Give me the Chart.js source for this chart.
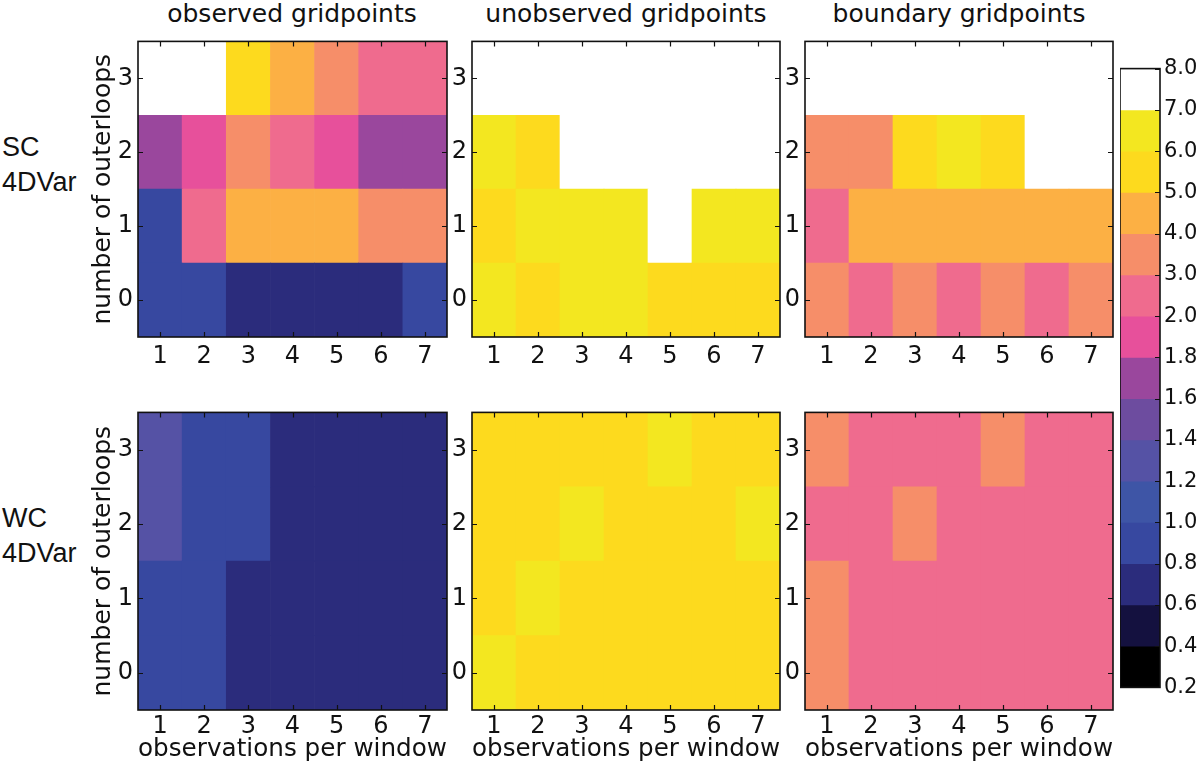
<!DOCTYPE html>
<html><head><meta charset="utf-8">
<script src="https://cdn.jsdelivr.net/npm/chart.js@4.4.1/dist/chart.umd.min.js"></script>
<style>
html,body{margin:0;padding:0;background:#fff;}
body{width:1200px;height:766px;overflow:hidden;position:relative;font-family:'DejaVu Sans',sans-serif;}
.box{position:absolute;}
.ttl{position:absolute;font-family:'DejaVu Sans',sans-serif;font-size:25px;line-height:25px;color:#111;text-align:center;white-space:nowrap;width:400px;}
.lab{position:absolute;left:2px;font-family:'Liberation Sans',Arial,sans-serif;font-size:27px;line-height:35px;color:#111;}
</style></head><body>
<div class="ttl" style="left:92px;top:1px">observed gridpoints</div>
<div class="ttl" style="left:426px;top:1px">unobserved gridpoints</div>
<div class="ttl" style="left:759px;top:1px">boundary gridpoints</div>
<div class="lab" style="top:130px">SC<br>4DVar</div>
<div class="lab" style="top:501px">WC<br>4DVar</div>
<script>
// ---- data ----
const obsPerWindow = ['1','2','3','4','5','6','7'];
const outerloopTicks = [0, 1, 2, 3];
const cbBounds = [0.2,0.4,0.6,0.8,1.0,1.2,1.4,1.6,1.8,2.0,3.0,4.0,5.0,6.0,7.0,8.0];
const cbLabels = cbBounds.map(b => b.toFixed(1));
const cbColors = ['#000000','#14113f','#2b2c7c','#3748a0','#3e55a6','#5552a5','#6d4c9f','#9a479d',
                  '#e7509b','#ef6b8e','#f68e69','#fcb044','#fdda1e','#f3e720','#ffffff'];
// rows: number of outerloops 0..3 ; columns: observations per window 1..7
const scObserved = [
  [0.9,0.9,0.7,0.7,0.7,0.7,0.9],
  [0.9,2.5,4.5,4.5,4.5,3.5,3.5],
  [1.7,1.9,3.5,2.5,1.9,1.7,1.7],
  [7.5,7.5,5.5,4.5,3.5,2.5,2.5]
];
const scUnobserved = [
  [6.5,5.5,6.5,6.5,5.5,5.5,5.5],
  [5.5,6.5,6.5,6.5,7.5,6.5,6.5],
  [6.5,5.5,7.5,7.5,7.5,7.5,7.5],
  [7.5,7.5,7.5,7.5,7.5,7.5,7.5]
];
const scBoundary = [
  [3.5,2.5,3.5,2.5,3.5,2.5,3.5],
  [2.5,4.5,4.5,4.5,4.5,4.5,4.5],
  [3.5,3.5,5.5,6.5,5.5,7.5,7.5],
  [7.5,7.5,7.5,7.5,7.5,7.5,7.5]
];
const wcObserved = [
  [0.9,0.9,0.7,0.7,0.7,0.7,0.7],
  [0.9,0.9,0.7,0.7,0.7,0.7,0.7],
  [1.3,0.9,0.9,0.7,0.7,0.7,0.7],
  [1.3,0.9,0.9,0.7,0.7,0.7,0.7]
];
const wcUnobserved = [
  [6.5,5.5,5.5,5.5,5.5,5.5,5.5],
  [5.5,6.5,5.5,5.5,5.5,5.5,5.5],
  [5.5,5.5,6.5,5.5,5.5,5.5,6.5],
  [5.5,5.5,5.5,5.5,6.5,5.5,5.5]
];
const wcBoundary = [
  [3.5,2.5,2.5,2.5,2.5,2.5,2.5],
  [3.5,2.5,2.5,2.5,2.5,2.5,2.5],
  [2.5,2.5,3.5,2.5,2.5,2.5,2.5],
  [3.5,2.5,2.5,2.5,3.5,2.5,2.5]
];
const yTitle = 'number of outerloops';
const xTitle = 'observations per window';

// ---- rendering ----
Chart.defaults.font.family = "'DejaVu Sans', sans-serif";
Chart.defaults.color = '#111';

function colorFor(v) {
  for (let i = 0; i < cbColors.length; i++) if (v < cbBounds[i + 1]) return cbColors[i];
  return cbColors[cbColors.length - 1];
}

const framePlugin = {
  id: 'frame',
  afterDatasetsDraw(chart, args, o) {
    const {ctx, chartArea: a, scales: {x, y}} = chart;
    const L = 5;
    ctx.save();
    ctx.strokeStyle = '#111';
    ctx.lineWidth = 1.2;
    ctx.beginPath();
    if (o.xTicks) x.ticks.forEach((t, i) => {
      const p = Math.round(x.getPixelForTick(i)) + 0.5;
      ctx.moveTo(p, a.bottom); ctx.lineTo(p, a.bottom - L);
      ctx.moveTo(p, a.top); ctx.lineTo(p, a.top + L);
    });
    y.ticks.forEach(t => {
      const p = Math.round(y.getPixelForValue(t.value)) + 0.5;
      if (o.leftTicks) { ctx.moveTo(a.left, p); ctx.lineTo(a.left + L, p); }
      ctx.moveTo(a.right, p); ctx.lineTo(a.right - L, p);
    });
    ctx.stroke();
    ctx.lineWidth = 1.6;
    ctx.strokeRect(a.left, a.top, a.width, a.height);
    ctx.restore();
  }
};

function makeBox(left, top, w, h) {
  const d = document.createElement('div');
  d.className = 'box';
  d.style.left = left + 'px'; d.style.top = top + 'px';
  d.style.width = w + 'px'; d.style.height = h + 'px';
  const c = document.createElement('canvas');
  d.appendChild(c);
  document.body.appendChild(d);
  return c;
}

function makePanel(values, plotLeft, plotTop, plotW, plotH, o) {
  const T = 6, R = 6;
  const canvas = makeBox(plotLeft - o.L, plotTop - T, o.L + plotW + R, T + plotH + o.B);
  const datasets = values.map((row, r) => ({
    data: row.map(() => [r - 0.5, r + 0.5]),
    backgroundColor: row.map(colorFor),
    borderWidth: 0, grouped: false, barPercentage: 1, categoryPercentage: 1
  }));
  new Chart(canvas, {
    type: 'bar',
    data: {labels: obsPerWindow, datasets},
    options: {
      responsive: true, maintainAspectRatio: false, animation: false, events: [],
      layout: {padding: {top: T, right: R, left: 0, bottom: 0}},
      plugins: {legend: {display: false}, tooltip: {enabled: false}, frame: {xTicks: true, leftTicks: true}},
      scales: {
        x: {
          type: 'category', offset: true,
          grid: {display: false, drawTicks: false}, border: {display: false},
          ticks: {font: {size: 24}, color: '#111', padding: o.xPad, maxRotation: 0, autoSkip: false},
          title: {display: !!o.xTitle, text: o.xTitle || '', font: {size: 25}, color: '#111', padding: {top: 0, bottom: 2}},
          afterFit(s) { s.height = o.B; }
        },
        y: {
          type: 'linear', min: -0.5, max: 3.5,
          grid: {display: false, drawTicks: false}, border: {display: false},
          afterBuildTicks(s) { s.ticks = outerloopTicks.map(v => ({value: v})); },
          ticks: {font: {size: 24}, color: '#111', padding: 5},
          title: {display: !!o.yTitle, text: o.yTitle || '', font: {size: 25}, color: '#111', padding: {top: 3, bottom: 0}},
          afterFit(s) { s.width = o.L; }
        }
      }
    },
    plugins: [framePlugin]
  });
}

const colLeft = [138, 472, 805];
const colW = [309, 308, 308];
const rowTop = [28, 399];
const rowH = [309, 311];

makePanel(scObserved,   colLeft[0], rowTop[0], colW[0], rowH[0], {L: 53, B: 40, xPad: 5, yTitle});
makePanel(scUnobserved, colLeft[1], rowTop[0], colW[1], rowH[0], {L: 30, B: 40, xPad: 5});
makePanel(scBoundary,   colLeft[2], rowTop[0], colW[2], rowH[0], {L: 30, B: 40, xPad: 5});
makePanel(wcObserved,   colLeft[0], rowTop[1], colW[0], rowH[1], {L: 53, B: 56, xPad: 2, yTitle, xTitle});
makePanel(wcUnobserved, colLeft[1], rowTop[1], colW[1], rowH[1], {L: 30, B: 56, xPad: 2, xTitle});
makePanel(wcBoundary,   colLeft[2], rowTop[1], colW[2], rowH[1], {L: 30, B: 56, xPad: 2, xTitle});

// colorbar
(function () {
  const left = 1120, top = 68, w = 40, h = 620, P = 16, LW = 45;
  const canvas = makeBox(left, top - P, w + LW, h + 2 * P);
  new Chart(canvas, {
    type: 'bar',
    data: {
      labels: ['cb'],
      datasets: [{
        data: cbColors.map((c, i) => ({x: 'cb', y: [i, i + 1]})),
        backgroundColor: cbColors,
        borderWidth: 0, barPercentage: 1, categoryPercentage: 1
      }]
    },
    options: {
      responsive: true, maintainAspectRatio: false, animation: false, events: [],
      layout: {padding: {top: P, bottom: P, left: 0, right: 0}},
      plugins: {legend: {display: false}, tooltip: {enabled: false}, frame: {xTicks: false, leftTicks: false}},
      scales: {
        x: {type: 'category', display: false, offset: true},
        y: {
          position: 'right', min: 0, max: cbLabels.length - 1,
          grid: {display: false, drawTicks: false}, border: {display: false},
          afterBuildTicks(s) { s.ticks = cbLabels.map((_, i) => ({value: i})); },
          ticks: {font: {size: 21}, color: '#111', padding: 4, callback: (v, i) => cbLabels[i]},
          afterFit(s) { s.width = LW; }
        }
      }
    },
    plugins: [framePlugin]
  });
})();
</script>
</body></html>
